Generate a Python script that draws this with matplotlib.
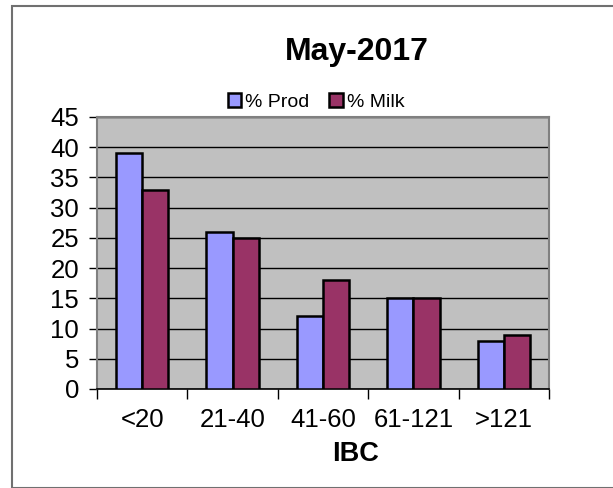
import matplotlib
matplotlib.use("Agg")
import matplotlib.pyplot as plt
from matplotlib.patches import Rectangle
import numpy as np

categories = ["<20", "21-40", "41-60", "61-121", ">121"]
prod = [39, 26, 12, 15, 8]
milk = [33, 25, 18, 15, 9]
series_names = ["% Prod", "% Milk"]
title = "May-2017"
xlabel = "IBC"

plt.rcParams['font.family'] = ['Liberation Sans', 'DejaVu Sans']

W, H = 613, 488
fig = plt.figure(figsize=(W/100, H/100), dpi=100)
fig.patch.set_facecolor('white')
# outer chart border
fig.patches.append(Rectangle((12/W, 0), 1.0, 1 - 6/H, transform=fig.transFigure,
                             fill=False, edgecolor='#707070', linewidth=1.5))

left, right, top, bottom = 97, 549, 117, 389
ax = fig.add_axes([left/W, 1 - bottom/H, (right-left)/W, (bottom-top)/H])
ax.set_facecolor('#C0C0C0')

x = np.arange(len(categories))
w = 0.29
b1 = ax.bar(x - w/2, prod, w, color='#9999FF', edgecolor='black', linewidth=1.8, zorder=3, label=series_names[0])
b2 = ax.bar(x + w/2, milk, w, color='#993366', edgecolor='black', linewidth=1.8, zorder=3, label=series_names[1])

ax.set_xlim(-0.5, len(categories) - 0.5)
ax.set_ylim(0, 45)
ax.set_yticks(range(0, 46, 5))
ax.yaxis.grid(True, color='black', linewidth=1.0, zorder=1)
ax.set_axisbelow(True)

ax.set_xticks(np.arange(-0.5, len(categories), 1.0))
ax.set_xticklabels([])
ax.set_xticks(x, minor=True)
ax.set_xticklabels(categories, minor=True)
ax.tick_params(axis='x', which='minor', length=0, pad=13.5, labelsize=18.5)
ax.tick_params(axis='x', which='major', length=7, width=1, color='black', direction='out')
ax.tick_params(axis='y', length=6, width=1, direction='out', labelsize=18.5, pad=7)

for s in ['top', 'right']:
    ax.spines[s].set_color('#808080')
    ax.spines[s].set_linewidth(1.5)
ax.spines['left'].set_color('#808080')
ax.spines['left'].set_linewidth(1.5)
ax.spines['bottom'].set_color('black')
ax.spines['bottom'].set_linewidth(1.2)

fig.text(357/W, 1 - 52/H, title, ha='center', va='center', fontsize=23, fontweight='bold')
fig.text(356/W, 1 - 454/H, xlabel, ha='center', va='center', fontsize=19.5, fontweight='bold')

leg = fig.legend(handles=[b1, b2], labels=series_names, loc='center', bbox_to_anchor=(316/W, 1 - 102/H),
                 ncol=2, frameon=False, fontsize=14, handlelength=0.7, handleheight=0.7,
                 handletextpad=0.2, columnspacing=1.0, borderpad=0)

fig.savefig('out.png', dpi=100)
